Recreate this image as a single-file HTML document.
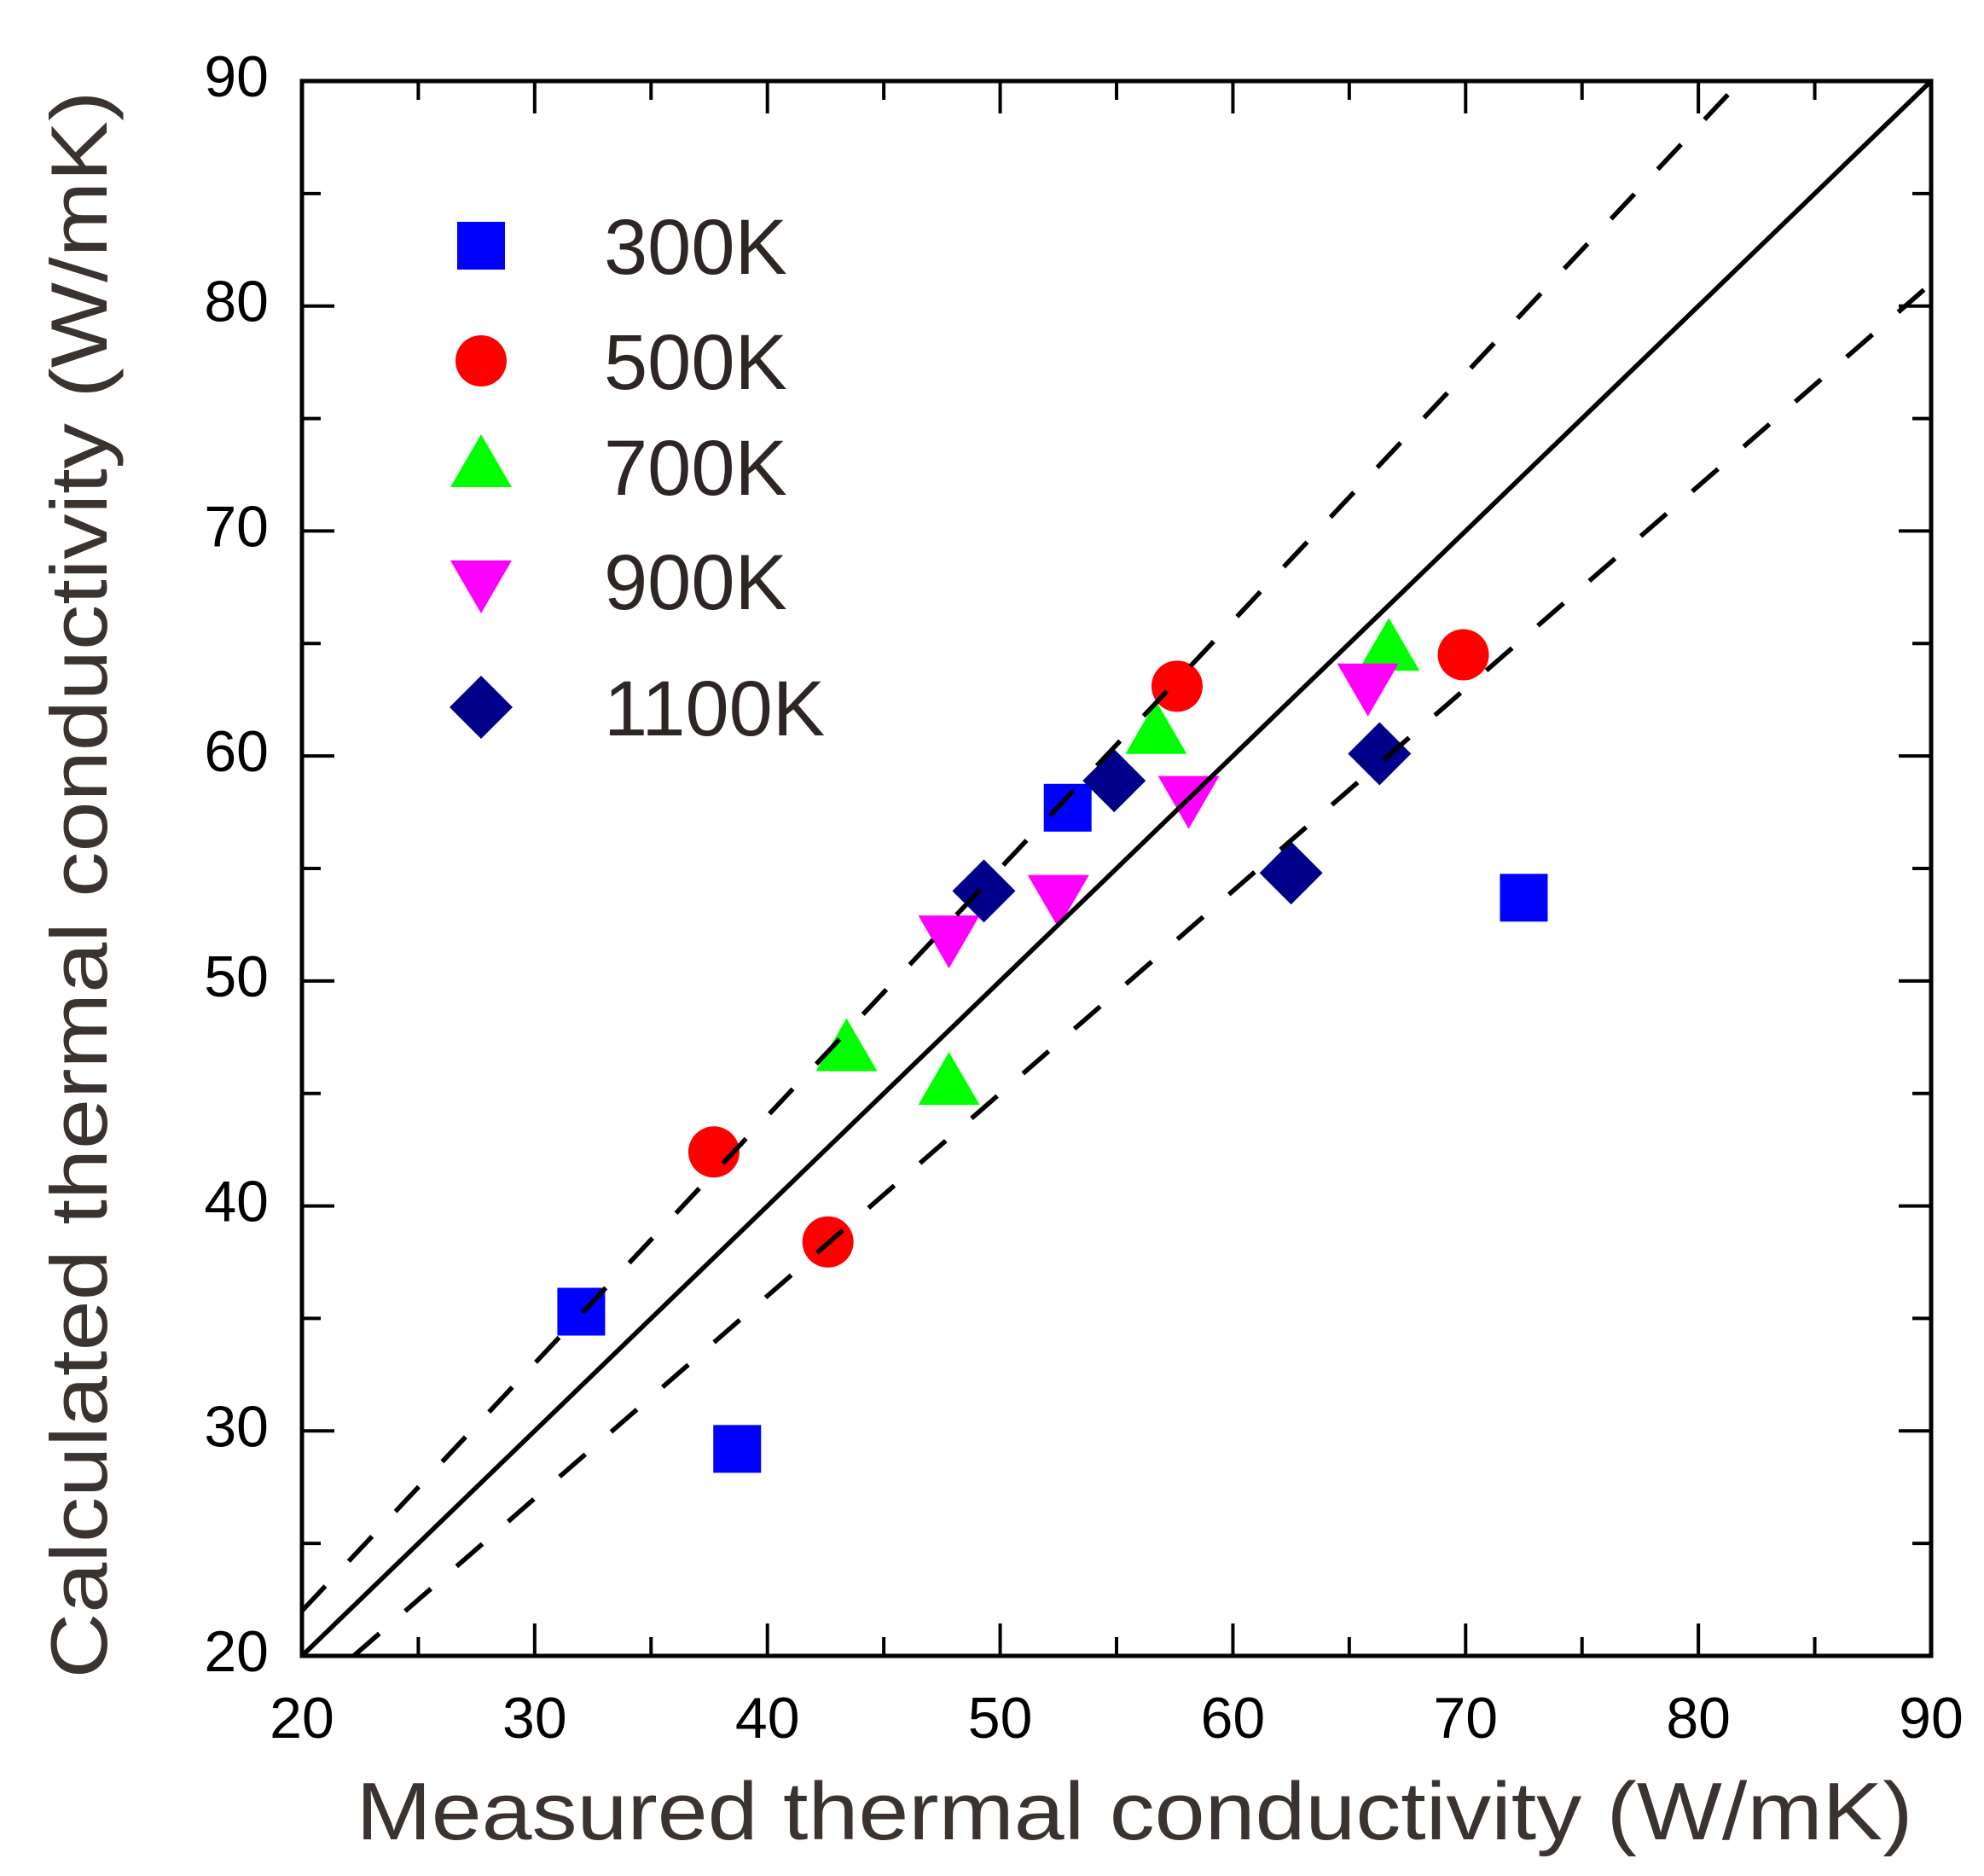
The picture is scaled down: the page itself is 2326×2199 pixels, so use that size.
<!DOCTYPE html>
<html><head><meta charset="utf-8"><style>
html,body{margin:0;padding:0;background:#fff}
svg{display:block}
text{font-family:"Liberation Sans",Arial,sans-serif}
</style></head><body>
<svg id="chart" width="2326" height="2199" viewBox="0 0 2326 2199" xmlns="http://www.w3.org/2000/svg">
<g id="lines"></g>
<g id="marks"></g>
<g id="overlines"></g>
<g id="axes"></g>
<g id="legend"></g>
<text x="1330" y="2156" font-size="96" fill="#3a3330" text-anchor="middle" textLength="1825" lengthAdjust="spacingAndGlyphs">Measured thermal conductivity (W/mK)</text>
<text x="0" y="0" transform="translate(125,1037) rotate(-90)" font-size="94" fill="#3a3330" text-anchor="middle" textLength="1861" lengthAdjust="spacingAndGlyphs">Calculated thermal conductivity (W/mK)</text>
</svg>
<script>
const xTicks = [20,30,40,50,60,70,80,90];
const yTicks = [20,30,40,50,60,70,80,90];
const seriesNames = ["300K","500K","700K","900K","1100K"];
const x300 = [32.0,38.7,52.9,72.5];
const y300 = [35.3,29.2,57.7,53.7];
const x500 = [37.7,42.6,57.6,69.9];
const y500 = [42.4,38.4,63.1,64.5];
const x700 = [43.4,47.8,56.7,66.7];
const y700 = [46.9,45.4,61.0,64.7];
const x900 = [47.8,52.5,58.1,65.8];
const y900 = [52.0,53.8,58.2,63.2];
const x1100 = [49.3,54.9,62.5,66.3];
const y1100 = [54.0,58.9,54.8,60.1];
const lineSlopes = [1.0,1.1,0.9];

const NS="http://www.w3.org/2000/svg";
const X0=354,X1=2264,Y0=1941,Y1=95,XMIN=20,XMAX=90,YMIN=20,YMAX=90;
const sx=v=>X0+(v-XMIN)*(X1-X0)/(XMAX-XMIN);
const sy=v=>Y0-(v-YMIN)*(Y0-Y1)/(YMAX-YMIN);
function mk(tag,attrs,parent){const e=document.createElementNS(NS,tag);for(const k in attrs)e.setAttribute(k,attrs[k]);parent.appendChild(e);return e;}

const colors=["#0000ff","#ff0000","#00ff00","#ff00ff","#00008b"];
const shapes=["square","circle","up","down","diamond"];
function marker(shape,cx,cy,color,parent){
  let e;
  if(shape==="square") e=mk("rect",{x:cx-28,y:cy-28,width:56,height:56,fill:color},parent);
  else if(shape==="circle") e=mk("circle",{cx:cx,cy:cy,r:30,fill:color},parent);
  else if(shape==="up") e=mk("polygon",{points:`${cx-36},${cy+24} ${cx+36},${cy+24} ${cx},${cy-38}`,fill:color},parent);
  else if(shape==="down") e=mk("polygon",{points:`${cx-36},${cy-24} ${cx+36},${cy-24} ${cx},${cy+38}`,fill:color},parent);
  else e=mk("polygon",{points:`${cx-37},${cy} ${cx},${cy-37} ${cx+37},${cy} ${cx},${cy+37}`,fill:color},parent);
  return e;
}

const ov=document.getElementById("overlines");
lineSlopes.forEach((s,i)=>{
  let xa=XMIN, xb=XMAX;
  if(s*xa<YMIN) xa=YMIN/s;
  if(s*xb>YMAX) xb=YMAX/s;
  const l=mk("line",{x1:sx(xa),y1:sy(s*xa),x2:sx(xb),y2:sy(s*xb),stroke:"#000","stroke-width":5.5,"stroke-dasharray":s===1?"none":"40 40"},ov);
  
  
});

const xs=[x300,x500,x700,x900,x1100], ys=[y300,y500,y700,y900,y1100];
const mg=document.getElementById("marks");
xs.forEach((arr,si)=>{
  arr.forEach((xv,i)=>{
    const e=marker(shapes[si],sx(xv),sy(ys[si][i]),colors[si],mg);
    
    
  });
});

const ax=document.getElementById("axes");
const frame=mk("rect",{x:X0,y:Y1,width:X1-X0,height:Y0-Y1,fill:"none",stroke:"#000","stroke-width":5},ax);


for(let v=XMIN;v<=XMAX;v+=5){
  const major=(v%10===0), L=major?38:22;
  mk("line",{x1:sx(v),y1:Y0,x2:sx(v),y2:Y0-L,stroke:"#000","stroke-width":4},ax);
  mk("line",{x1:sx(v),y1:Y1,x2:sx(v),y2:Y1+L,stroke:"#000","stroke-width":4},ax);
}
for(let v=YMIN;v<=YMAX;v+=5){
  const major=(v%10===0), L=major?38:22;
  mk("line",{x1:X0,y1:sy(v),x2:X0+L,y2:sy(v),stroke:"#000","stroke-width":4},ax);
  mk("line",{x1:X1,y1:sy(v),x2:X1-L,y2:sy(v),stroke:"#000","stroke-width":4},ax);
}
xTicks.forEach(v=>{
  const t=mk("text",{x:sx(v),y:2037,"font-size":68,"text-anchor":"middle",fill:"#000"},ax);
  t.textContent=v;
  
  
});
yTicks.forEach(v=>{
  const t=mk("text",{x:315,y:sy(v)+18,"font-size":68,"text-anchor":"end",fill:"#000"},ax);
  t.textContent=v;
  
  
});

const lg=document.getElementById("legend");
const rowY=[288,423,547,681,829];
seriesNames.forEach((n,i)=>{
  const m=marker(shapes[i],564,rowY[i],colors[i],lg);
  
  
  const t=mk("text",{x:708,y:rowY[i]+33,"font-size":92,fill:"#2e2624"},lg);
  t.textContent=n;
  
  
});
</script>
</body></html>
